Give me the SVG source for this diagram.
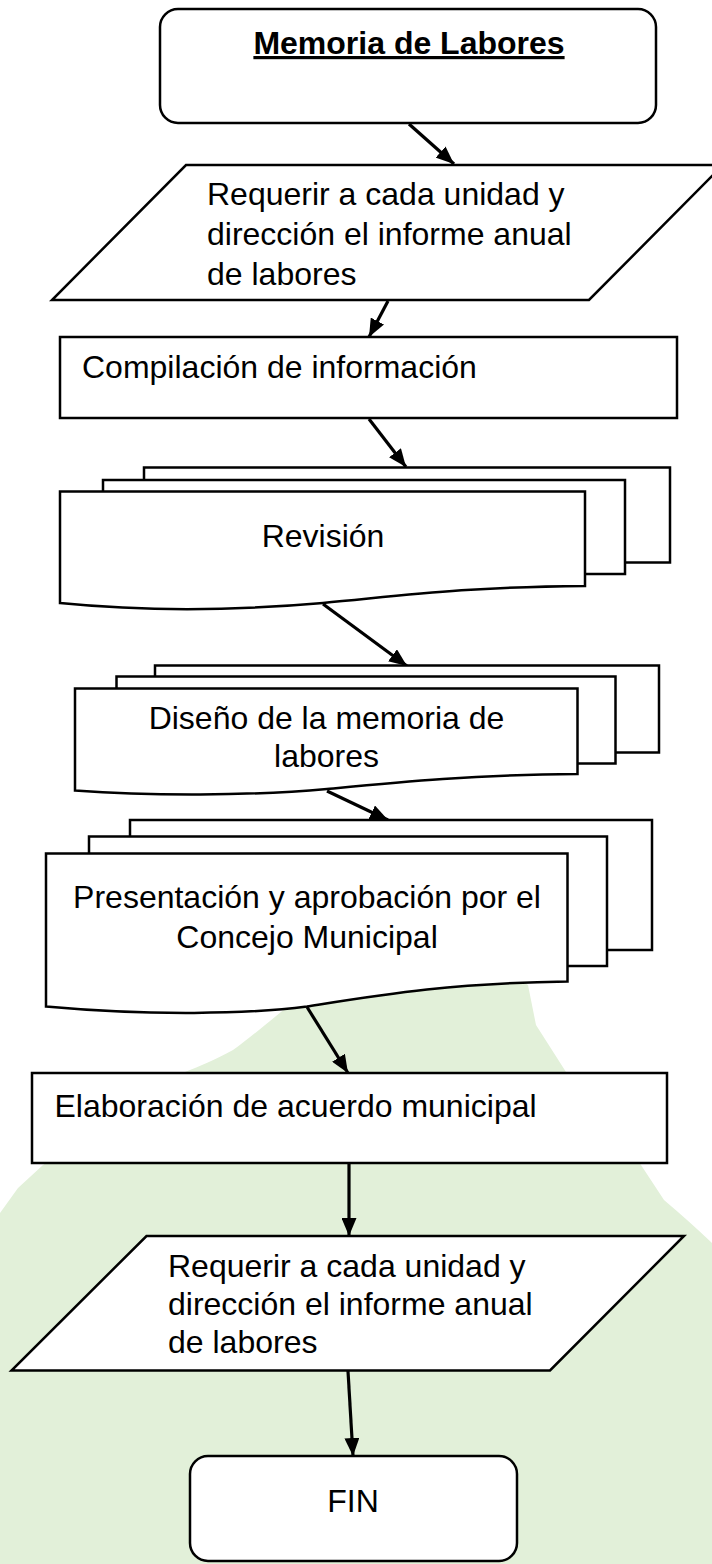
<svg xmlns="http://www.w3.org/2000/svg" width="712" height="1564" viewBox="0 0 712 1564">
<style>
.shape{fill:#fff;stroke:#000;stroke-width:2.5;stroke-linejoin:miter}
.t{font-family:"Liberation Sans",Arial,sans-serif;font-size:32px;fill:#000}
.c{text-anchor:middle}
.title{font-weight:bold;text-decoration:underline}
.conn{stroke:#000;stroke-width:3.2;fill:none;marker-end:url(#ah)}
</style>
<defs>
<marker id="ah" markerUnits="userSpaceOnUse" markerWidth="18" markerHeight="15" viewBox="0 0 18 15" refX="18" refY="7.5" orient="auto">
<path d="M0,0 L18,7.5 L0,15 z" fill="#000"/>
</marker>
</defs>
<rect width="712" height="1564" fill="#fff"/>
<path id="bg" d="M300,995 L520,979 L528,985 L536,1025 L566,1072 L641,1165 L664,1200 Q690,1222 712,1243 L712,1564 L0,1564 L0,1213 L18,1188 L43,1165 L185,1072 C200,1066 215,1060 233,1050 C250,1038 268,1022 290,1005 Z" fill="#E2F0D9"/>

<g id="connectors">
<line class="conn" x1="409" y1="124" x2="454" y2="164"/>
<line class="conn" x1="388" y1="301" x2="369" y2="337"/>
<line class="conn" x1="369" y1="419" x2="406" y2="467"/>
<line class="conn" x1="323" y1="604" x2="407" y2="666"/>
<line class="conn" x1="327" y1="791" x2="388" y2="820"/>
<line class="conn" x1="307" y1="1007" x2="348" y2="1073"/>
<line class="conn" x1="349" y1="1163" x2="349" y2="1236"/>
<line class="conn" x1="348" y1="1371" x2="353" y2="1456"/>
</g>

<g id="n-start">
<rect class="shape" x="160" y="9" width="496" height="114" rx="18" ry="18"/>
<text class="t c title" x="409" y="54">Memoria de Labores</text>
</g>

<g id="n-requerir1">
<polygon class="shape" points="186,165 723,165 589,300 52,300"/>
<text class="t" x="207" y="204.5">Requerir a cada unidad y</text>
<text class="t" x="207" y="245">dirección el informe anual</text>
<text class="t" x="207" y="284.5">de labores</text>
</g>

<g id="n-compilacion">
<rect class="shape" x="60" y="337" width="617" height="81"/>
<text class="t" x="82" y="377.5">Compilación de información</text>
</g>

<g id="n-revision">
<rect class="shape" x="144" y="467.5" width="526" height="95"/>
<rect class="shape" x="103" y="480" width="522" height="94"/>
<path class="shape" d="M60,491.5 L585,491.5 L585,586 C460,587 400,596 323,603 C220,612 130,610 60,603 Z"/>
<text class="t c" x="323" y="546.5">Revisión</text>
</g>

<g id="n-diseno">
<rect class="shape" x="155" y="665.5" width="504" height="87"/>
<rect class="shape" x="116.5" y="676.5" width="499" height="87"/>
<path class="shape" d="M75,688.5 L577.5,688.5 L577.5,774 C470,775 400,782 327,789 C250,796 150,796 75,790.5 Z"/>
<text class="t c" x="326.5" y="729">Diseño de la memoria de</text>
<text class="t c" x="326.5" y="767">labores</text>
</g>

<g id="n-presentacion">
<rect class="shape" x="130" y="820" width="522" height="130"/>
<rect class="shape" x="89" y="836.5" width="518" height="129.5"/>
<path class="shape" d="M46,853.5 L567.5,853.5 L567.5,981.5 C450,983 380,995 307,1006.5 C250,1014 150,1016 46,1006.5 Z"/>
<text class="t c" x="307" y="908.3">Presentación y aprobación por el</text>
<text class="t c" x="307" y="948.3">Concejo Municipal</text>
</g>

<g id="n-elaboracion">
<rect class="shape" x="32" y="1073" width="635" height="90"/>
<text class="t" x="54.5" y="1116.7">Elaboración de acuerdo municipal</text>
</g>

<g id="n-requerir2">
<polygon class="shape" points="146.5,1236 684,1236 550,1370.5 11.5,1370.5"/>
<text class="t" x="168" y="1276.7">Requerir a cada unidad y</text>
<text class="t" x="168" y="1315">dirección el informe anual</text>
<text class="t" x="168" y="1353.3">de labores</text>
</g>

<g id="n-fin">
<rect class="shape" x="190" y="1456" width="327" height="105" rx="18" ry="18"/>
<text class="t c" x="353" y="1511.7">FIN</text>
</g>
</svg>
